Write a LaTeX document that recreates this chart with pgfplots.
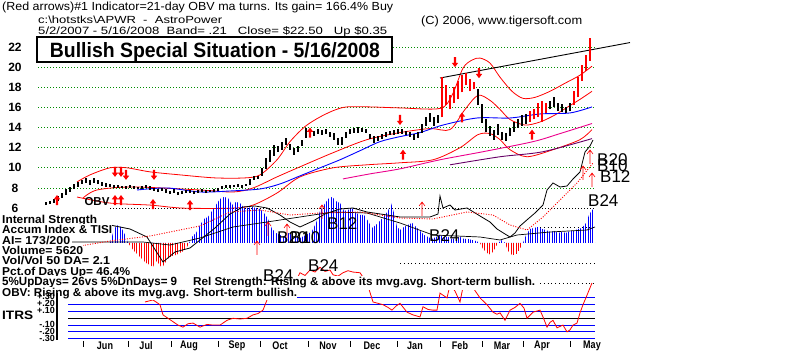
\documentclass[border=0pt]{standalone}
\usepackage{pgfplots}
\pgfplotsset{compat=1.18}
\usepackage{fontspec}
\setmainfont{Liberation Sans}
\usetikzlibrary{patterns.meta}

\pgfdeclareplotmark{uarr}{%
  \pgfpathmoveto{\pgfqpoint{0pt}{5pt}}%
  \pgfpathlineto{\pgfqpoint{3.2pt}{0.8pt}}%
  \pgfpathlineto{\pgfqpoint{1.2pt}{0.8pt}}%
  \pgfpathlineto{\pgfqpoint{1.2pt}{-5pt}}%
  \pgfpathlineto{\pgfqpoint{-1.2pt}{-5pt}}%
  \pgfpathlineto{\pgfqpoint{-1.2pt}{0.8pt}}%
  \pgfpathlineto{\pgfqpoint{-3.2pt}{0.8pt}}%
  \pgfpathclose\pgfusepathqfill}
\pgfdeclareplotmark{darr}{%
  \pgfpathmoveto{\pgfqpoint{0pt}{-5pt}}%
  \pgfpathlineto{\pgfqpoint{3.2pt}{-0.8pt}}%
  \pgfpathlineto{\pgfqpoint{1.2pt}{-0.8pt}}%
  \pgfpathlineto{\pgfqpoint{1.2pt}{5pt}}%
  \pgfpathlineto{\pgfqpoint{-1.2pt}{5pt}}%
  \pgfpathlineto{\pgfqpoint{-1.2pt}{-0.8pt}}%
  \pgfpathlineto{\pgfqpoint{-3.2pt}{-0.8pt}}%
  \pgfpathclose\pgfusepathqfill}
\pgfdeclareplotmark{tarr}{%
  \pgfpathmoveto{\pgfqpoint{0pt}{-7pt}}\pgfpathlineto{\pgfqpoint{0pt}{7pt}}%
  \pgfpathmoveto{\pgfqpoint{-3pt}{3pt}}\pgfpathlineto{\pgfqpoint{0pt}{7pt}}%
  \pgfpathlineto{\pgfqpoint{3pt}{3pt}}%
  \pgfusepathqstroke}

\pgfplotsset{pane/.style={width=800pt,height=352pt,scale only axis,xmin=0,xmax=800,hide axis,clip=false},
  gridg/.style={green!55!black,line width=0.8pt,dash pattern=on 0.8pt off 2.2pt},
  bars/.style={draw=none,mark=none,error bars/.cd,y dir=plus,y explicit,error mark=none}}

\newcommand{\tl}[5]{\node[anchor=base west,inner sep=0pt] at (#1,352-#2) {\resizebox{#3pt}{#5pt}{#4}};}
\newcommand{\tlw}[5]{\node[anchor=base west,inner sep=0pt,inner ysep=1.5pt,fill=white] at (#1,352-#2) {\resizebox{#3pt}{#5pt}{#4}};}
\newcommand{\mon}[2]{\node[inner sep=0pt] at (#1,6) {\scalebox{0.82}[1]{\fontsize{11}{11}\selectfont\bfseries #2}};}
\newcommand{\blab}[3]{\node[anchor=west,inner sep=0pt] at (#1,352-#2) {\fontsize{17}{17}\selectfont #3};}

\begin{document}
\begin{tikzpicture}[x=1pt,y=1pt]
\useasboundingbox (0,0) rectangle (800,352);
\fill[white] (0,0) rectangle (800,352);

%================ PRICE PANE =================
\begin{axis}[pane, ymin=-8.288, ymax=26.667]
\pgfplotsinvokeforeach{8,10,...,20}{\addplot[gridg] coordinates {(38,#1) (595,#1)};}
\addplot[gridg] coordinates {(393,22) (595,22)};
\addplot[black,line width=0.8pt,dash pattern=on 0.8pt off 2.2pt] coordinates {(110,6) (595,6)};
% upper band
\addplot[red,line width=0.8pt,smooth] coordinates {(77,8.6)(90,9.3)(110,10.0)(127,10.0)(150,9.6)(180,9.3)(215,9.0)(245,9.0)(260,9.3)(277,10.8)(290,12.6)(305,14.1)(320,15.05)(335,15.75)(347,16.05)(370,16.05)(400,15.95)(440,15.9)(452,17.2)(463,19.9)(472,20.7)(480,20.9)(490,20.4)(500,19.0)(512,17.6)(523,16.9)(535,17.0)(550,17.6)(565,18.4)(580,19.2)(592,20.1)};
% middle red MA
\addplot[red,line width=0.8pt,smooth] coordinates {(83,7.0)(97,7.8)(133,8.1)(200,7.8)(233,7.6)(253,8.0)(277,9.1)(300,10.1)(333,11.5)(367,12.8)(400,13.5)(430,13.9)(450,13.8)(465,15.8)(478,17.2)(490,16.7)(500,15.8)(510,14.8)(525,14.25)(540,14.55)(555,15.25)(567,16.0)(580,16.8)(592,17.6)};
% lower band
\addplot[red,line width=0.8pt,smooth] coordinates {(77,7.1)(110,6.5)(150,6.3)(183,6.0)(233,6.0)(253,6.3)(277,7.5)(300,9.1)(333,10.0)(367,10.3)(400,10.5)(433,10.8)(460,12.0)(478,13.3)(490,13.4)(500,12.8)(510,11.8)(527,11.1)(553,11.8)(580,12.8)(592,13.8)};
% blue MA
\addplot[blue,line width=0.9pt,smooth] coordinates {(137,7.8)(167,8.0)(200,7.6)(230,7.7)(260,7.9)(280,8.4)(300,9.2)(320,10.0)(340,10.8)(360,11.7)(380,12.6)(400,13.1)(420,13.5)(443,14.25)(477,14.95)(510,14.95)(540,15.35)(570,15.45)(592,16.05)};
% magenta and purple MAs
\addplot[magenta,line width=0.9pt,smooth] coordinates {(343,8.9)(370,9.4)(400,9.9)(440,10.8)(483,11.6)(533,12.6)(560,13.4)(592,14.4)};
\addplot[violet!80!black,line width=0.9pt,smooth] coordinates {(450,10.3)(500,11.1)(543,11.6)(592,12.9)};
% trend line
\addplot[black,line width=0.9pt] coordinates {(440,18.92) (630,22.44)};
% price bars (x, low, high)
\addplot[bars, error bar style={draw=black,line width=1.2pt}] table[x=x,y=lo,y error expr=\thisrow{hi}-\thisrow{lo}] {
x lo hi
46 6.3 6.6
50 6.4 6.7
54 6.5 6.9
58 6.7 7.2
62 7.0 7.5
66 7.3 7.9
70 7.6 8.1
74 7.9 8.4
78 8.1 8.6
82 8.4 8.8
86 8.5 9.0
90 8.3 8.8
94 8.5 9.0
98 8.4 8.8
102 8.2 8.6
106 8.1 8.5
110 8.1 8.4
114 8.0 8.3
118 8.0 8.3
122 8.0 8.2
126 7.9 8.2
130 8.0 8.3
134 7.9 8.2
138 7.9 8.1
142 7.9 8.2
146 8.0 8.3
150 7.8 8.2
154 7.7 8.0
158 7.6 7.9
162 7.7 8.0
166 7.5 7.9
170 7.4 7.7
174 7.5 7.9
178 7.3 7.6
182 7.4 7.7
186 7.5 7.8
190 7.5 7.8
194 7.4 7.7
198 7.5 7.8
202 7.6 7.9
206 7.5 7.8
210 7.6 7.8
214 7.6 7.9
218 7.7 8.0
222 7.9 8.2
226 8.0 8.3
230 8.0 8.3
234 8.1 8.3
238 8.1 8.4
242 8.0 8.3
246 8.2 8.4
250 8.3 8.9
254 8.8 9.2
258 8.9 9.2
262 9.2 10.0
266 9.9 11.0
270 10.6 11.8
274 11.2 12.3
278 11.6 12.2
282 11.8 12.6
286 12.3 13.0
290 11.8 12.4
294 11.3 12.0
298 11.6 12.2
302 12.2 12.8
306 13.0 14.0
310 13.3 13.9
314 13.2 13.7
318 13.4 13.9
322 13.3 13.8
326 13.4 13.9
330 13.1 13.6
334 12.8 13.5
338 12.3 13.0
342 12.3 13.1
346 13.0 13.6
350 13.4 13.9
354 13.5 14.0
358 13.5 14.1
362 13.6 14.0
366 13.5 13.9
370 12.9 13.4
374 12.5 13.2
378 12.7 13.2
382 12.9 13.4
386 13.1 13.6
390 13.3 13.7
394 13.3 13.8
398 13.4 13.9
402 13.4 13.9
406 13.3 13.7
410 13.1 13.6
414 12.8 13.4
418 13.0 13.6
422 13.5 14.4
426 14.2 15.0
430 14.6 15.4
434 14.2 15.0
438 14.5 15.2
478 16.2 17.8
482 14.5 16.3
486 13.6 14.8
490 13.2 14.2
494 12.8 13.8
498 13.3 14.4
502 12.8 13.6
506 12.7 13.5
510 13.2 14.0
514 13.6 14.6
518 14.0 14.8
522 14.2 15.2
526 14.4 15.3
550 15.8 16.6
554 16.0 17.0
558 15.6 16.4
562 15.5 16.3
566 15.4 16.0
570 15.6 16.4
};
\addplot[bars, error bar style={draw=red,line width=1.2pt}] table[x=x,y=lo,y error expr=\thisrow{hi}-\thisrow{lo}] {
x lo hi
442 15.0 19.0
446 16.2 18.2
450 15.8 17.2
454 16.4 18.0
458 16.8 18.6
462 17.5 19.2
466 18.2 19.4
470 17.6 18.8
474 17.8 18.5
530 14.6 15.6
534 14.8 15.8
538 15.0 16.4
542 14.6 16.6
546 15.4 16.4
574 16.2 17.6
578 17.0 19.0
582 18.6 20.2
586 19.6 21.2
590 20.6 22.9
};
% thick arrows
\addplot[only marks,mark=darr,red] coordinates {(115,9.6)(121,9.6)(126,9.3)(154,9.3)(400,14.75)(455,20.5)(479,19.4)};
\addplot[only marks,mark=uarr,red] coordinates {(57,6.8)(115,6.8)(121,6.8)(153,6.4)(190,6.3)(310,13.5)(403,11.3)(462,15.0)(532,13.3)};
\end{axis}

%================ ACCUM INDEX PANE =================
\begin{axis}[pane, ymin=-109, ymax=243]
\addplot[draw=none,pattern={Lines[angle=90,distance=2.4pt,line width=1pt]},pattern color=blue] coordinates {
(110,0)(113,10)(116,17)(119,18)(122,14)(125,8)(128,0)(189,0)(192,6)(196,10)(200,18)(204,24)(208,26)(212,32)(216,38)(220,44)(224,46)(228,45)(232,38)(236,41)(240,40)(244,35)(248,35)(252,36)(256,35)(260,34)(264,30)(268,24)(272,14)(276,10)(280,8)(284,6)(288,10)(292,8)(296,6)(300,5)(304,7)(308,9)(312,12)(316,20)(320,32)(324,38)(328,44)(332,46)(336,42)(340,40)(344,32)(348,33)(352,35)(356,30)(360,28)(364,28)(368,22)(372,15)(376,18)(380,22)(384,27)(388,32)(391,40)(394,30)(397,16)(400,13)(404,16)(408,18)(412,20)(416,16)(420,12)(424,8)(428,6)(432,4)(436,6)(440,8)(444,6)(448,6)(452,4)(456,5)(460,6)(464,4)(468,4)(472,3)(476,2)(480,0)(498,0)(502,3)(505,0)(523,0)(526,8)(530,14)(534,15)(538,16)(542,14)(546,13)(550,11)(554,12)(558,10)(562,11)(566,10)(570,12)(574,12)(578,14)(582,15)(586,20)(589,28)(592,33)(594,34)(595,0)} \closedcycle;
\addplot[draw=none,pattern={Lines[angle=90,distance=2.4pt,line width=1pt]},pattern color=red] coordinates {
(128,0)(131,-4)(134,-8)(138,-12)(142,-16)(146,-20)(150,-22)(153,-24)(156,-18)(159,-21)(162,-25)(165,-20)(168,-16)(172,-13)(176,-12)(180,-10)(184,-8)(187,-4)(189,0)} \closedcycle;
\addplot[draw=none,pattern={Lines[angle=90,distance=2.4pt,line width=1pt]},pattern color=red] coordinates {
(480,0)(483,-6)(487,-10)(491,-12)(495,-6)(498,0)} \closedcycle;
\addplot[draw=none,pattern={Lines[angle=90,distance=2.4pt,line width=1pt]},pattern color=red] coordinates {
(505,0)(508,-8)(512,-12)(516,-12)(520,-6)(523,0)} \closedcycle;
% dotted reference lines
\addplot[black,line width=0.8pt,dash pattern=on 0.8pt off 3pt] coordinates {(400,-20)(595,-20)};
\addplot[black,line width=0.8pt,dash pattern=on 0.8pt off 3pt] coordinates {(540,16)(595,16)};
\addplot[black,line width=0.8pt,dash pattern=on 0.8pt off 3pt] coordinates {(540,-40)(595,-40)};
% AI moving average (black, lower)
\addplot[black,line width=0.7pt] coordinates {(72,1)(143,1)(170,-2)(200,5)(233,16)(267,21)(300,26)(333,31)(367,30)(400,20)(433,8)(480,6)(500,3)(517,8)(550,11)(587,13)(595,16)};
% TISI black line
\addplot[black,line width=0.8pt] coordinates {(110,18)(130,14)(147,6)(163,-19)(175,-9)(190,-5)(205,7)(215,15)(230,29)(243,36)(255,37)(267,35)(280,28)(290,21)(300,16)(313,22)(325,29)(340,34)(353,35)(367,31)(387,28)(400,26)(415,26)(430,26)(438,29)(440,47)(443,35)(450,38)(455,33)(467,35)(480,27)(490,21)(497,14)(505,9)(510,6)(515,10)(520,17)(528,24)(535,30)(543,38)(547,53)(553,60)(560,56)(567,57)(573,64)(580,71)(585,91)(590,97)(593,103)};
% red dotted OBV MA
\addplot[red,line width=0.9pt,dash pattern=on 1pt off 1.5pt] coordinates {(80,-3)(110,2)(150,7)(200,17)(230,31)(260,33)(290,28)(320,30)(360,31)(400,25)(433,24)(467,31)(493,28)(510,18)(527,13)(543,26)(560,43)(577,60)(593,80)};
% thin red arrows
\addplot[only marks,mark=tarr,red,line width=0.6pt] coordinates {(257,-5)(268,14)(287,12)(322,31)(422,34)(583,70)(590,86)(592,63)};
\end{axis}

%================ ITRS PANE =================
\begin{axis}[pane, ymin=-0.4956, ymax=4.681]
\pgfplotsinvokeforeach{0.3,0.2,0.1,-0.1,-0.2,-0.3}{\addplot[blue,line width=1pt] coordinates {(68,#1) (595,#1)};}
\addplot[black,line width=1pt] coordinates {(68,0) (595,0)};
\addplot[red,line width=0.8pt] coordinates {(145,0.24)(153,0.27)(160,0.20)(163,0.05)(168,0.0)(173,-0.05)(178,-0.10)(183,-0.13)(188,-0.08)(193,-0.07)(200,-0.13)(207,-0.09)(213,-0.10)(220,-0.10)(227,-0.03)(233,0.00)(240,-0.01)(247,0.00)(253,0.05)(258,0.07)(263,0.12)(267,0.27)(270,0.40)(273,0.56)(280,0.52)(287,0.61)(293,0.46)(300,0.67)(305,0.63)(310,0.71)(315,0.68)(320,0.75)(325,0.69)(330,0.71)(333,0.64)(338,0.62)(343,0.67)(348,0.70)(353,0.68)(360,0.67)(367,0.52)(373,0.24)(378,0.22)(383,0.20)(388,0.16)(392,0.12)(396,0.18)(400,0.22)(407,0.09)(413,0.05)(420,0.02)(423,0.17)(428,0.13)(433,0.12)(437,0.12)(440,0.37)(444,0.33)(447,0.30)(450,0.49)(455,0.40)(460,0.24)(463,0.46)(468,0.42)(473,0.45)(480,0.30)(487,0.20)(493,0.09)(497,0.06)(500,0.08)(505,-0.03)(510,0.12)(515,0.16)(520,0.22)(524,0.15)(527,0.00)(533,0.09)(540,0.12)(543,0.02)(547,-0.13)(550,-0.06)(553,-0.03)(557,-0.14)(563,-0.10)(567,-0.20)(570,-0.17)(573,-0.10)(577,-0.07)(580,0.08)(583,0.20)(587,0.34)(592,0.52)};
\end{axis}

%================ TEXT =================
\tl{2}{11}{391}{(Red arrows)\#1 Indicator=21-day OBV ma turns. Its gain= 166.4\% Buy}{8.5}
\tl{38}{24}{184}{c:\textbackslash hotstks\textbackslash APWR\ \ -\ \ AstroPower}{7.5}
\tl{38}{34.5}{349}{5/2/2007 - 5/16/2008\ \ Band= .21\ \ \ Close= \$22.50\ \ \ Up \$0.35}{7.8}
\tl{421}{25}{161}{(C) 2006, www.tigersoft.com}{8.5}
\draw[line width=1.3pt] (37,352-37) rectangle (392,352-62);
\node[anchor=base,inner sep=0pt] at (215,352-57.3) {\resizebox{330pt}{15pt}{\bfseries Bullish Special Situation - 5/16/2008}};
% price tick labels
\foreach \p/\yy in {22/47,20/67.1,18/87.3,16/107.4,14/127.6,12/147.7,10/167.8,8/188,6/208.1}{
  \node[inner sep=0pt] at (15,352-\yy) {\fontsize{12}{12}\selectfont\bfseries \p};}
\node[inner sep=0pt] at (97,352-201.5) {\fontsize{11.5}{11.5}\selectfont\bfseries OBV};
% left text block
\tlw{2}{223.5}{95}{\bfseries Internal Strength}{8.3}
\tlw{2}{233.5}{110}{\bfseries Accum Index \& TISI}{8.3}
\tlw{2}{244.5}{68}{\bfseries AI= 173/200}{8.3}
\tlw{2}{255}{81}{\bfseries Volume= 5620}{8.3}
\tlw{2}{265}{108}{\bfseries Vol/Vol 50 DA= 2.1}{8.3}
\tlw{2}{276}{128}{\bfseries Pct.of Days Up= 46.4\%}{8.3}
\tlw{2}{286}{175}{\bfseries 5\%UpDays= 26vs 5\%DnDays= 9}{8.3}
\tlw{193}{286}{342}{\bfseries Rel Strength: Rising \& above its mvg.avg. Short-term bullish.}{8.3}
\tlw{2}{296.5}{295}{\bfseries OBV: Rising \& above its mvg.avg. Short-term bullish.}{8.3}
\tl{2}{320}{31}{\bfseries ITRS}{8.5}
% ITRS labels
\foreach \lab/\yy in {+.30/296,+.20/303,+.10/310,-.10/324,-.20/331,-.30/338}{
  \node[anchor=east,inner sep=0pt] at (55,352-\yy) {\fontsize{9}{9}\selectfont\bfseries \lab};}
\draw[line width=1.5pt] (57,352-293) -- (57,352-340);
% B labels
\blab{327}{224}{B12}
\blab{277}{238}{B20}
\blab{290}{238}{B10}
\blab{429}{236}{B24}
\blab{597}{160}{B20}
\blab{597}{166}{B10}
\blab{600}{177}{B12}
\blab{588}{201}{B24}
\blab{263}{275.5}{B24}
\blab{308}{266}{B24}
% month axis
\foreach \xx in {83,128,171,218,260,308,350,397,440,482,523,570}{\draw[line width=0.8pt] (\xx,11) -- (\xx,5);}
\mon{105}{Jun}\mon{146}{Jul}\mon{189}{Aug}\mon{237}{Sep}\mon{280}{Oct}\mon{328}{Nov}
\mon{372}{Dec}\mon{415}{Jan}\mon{460}{Feb}\mon{502}{Mar}\mon{542}{Apr}\mon{592}{May}
\end{tikzpicture}
\end{document}
